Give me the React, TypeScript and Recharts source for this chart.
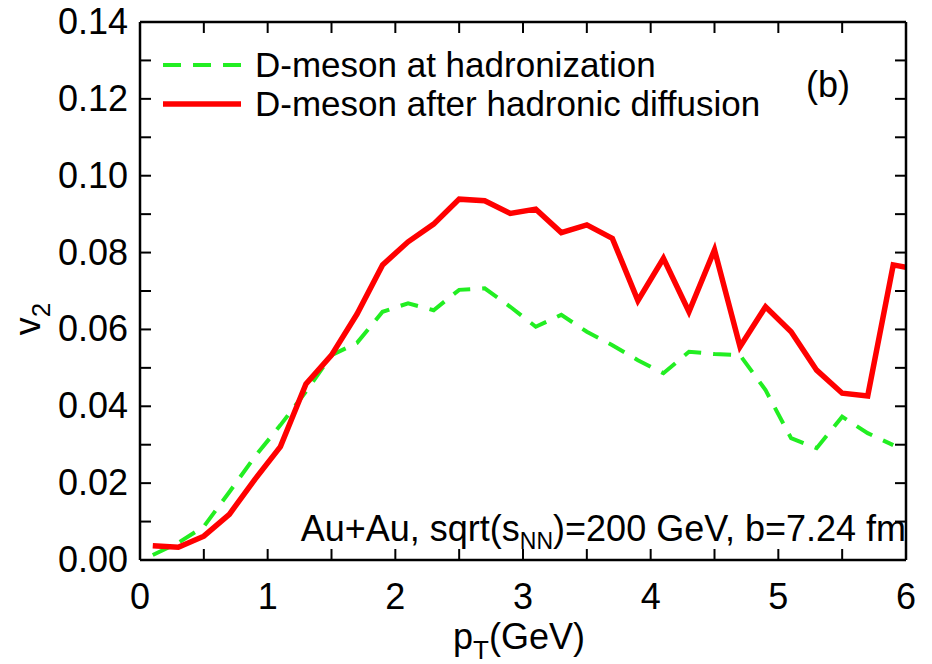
import React from 'react';
import { LineChart, Line, XAxis, YAxis, Label } from 'recharts';

const pT = [0.1, 0.3, 0.5, 0.7, 0.9, 1.1, 1.3, 1.5, 1.7, 1.9, 2.1, 2.3, 2.5, 2.7, 2.9, 3.1, 3.3, 3.5, 3.7, 3.9, 4.1, 4.3, 4.5, 4.7, 4.9, 5.1, 5.3, 5.5, 5.7, 5.9, 6.0];
const afterDiffusion = [0.0037, 0.0033, 0.0062, 0.0119, 0.021, 0.0295, 0.0458, 0.0533, 0.064, 0.0768, 0.0828, 0.0874, 0.0939, 0.0935, 0.0902, 0.0913, 0.0852, 0.0872, 0.0837, 0.0675, 0.0785, 0.0646, 0.0807, 0.0555, 0.0659, 0.0594, 0.0494, 0.0434, 0.0427, 0.0768, 0.0762];
const atHadronization = [0.0013, 0.0045, 0.0087, 0.0177, 0.0269, 0.0351, 0.0438, 0.0533, 0.0565, 0.0646, 0.0668, 0.065, 0.0703, 0.0707, 0.0659, 0.0607, 0.0638, 0.0594, 0.0559, 0.052, 0.0486, 0.0542, 0.0536, 0.0533, 0.0442, 0.0317, 0.0291, 0.0373, 0.033, 0.0299, null];

const xTicks = [0, 0.5, 1, 1.5, 2, 2.5, 3, 3.5, 4, 4.5, 5, 5.5, 6];
const yTicks = [0, 0.01, 0.02, 0.03, 0.04, 0.05, 0.06, 0.07, 0.08, 0.09, 0.1, 0.11, 0.12, 0.13, 0.14];
const yLabelTicks = [0, 0.02, 0.04, 0.06, 0.08, 0.1, 0.12, 0.14];
const xLabelTicks = [0, 1, 2, 3, 4, 5, 6];

const seriesNames = ['D-meson at hadronization', 'D-meson after hadronic diffusion'];

const data = pT.map((x, i) => ({ pT: x, green: atHadronization[i], red: afterDiffusion[i] }));

const FONT = '"Liberation Sans", Arial, sans-serif';
const TICK_LEN = 11;
const GREEN = '#22ee22';
const RED = '#ff0000';
const FS = 36;

const BottomTick = (props: any) => {
  const { x, y, payload } = props;
  const v = payload.value;
  const isLabel = xLabelTicks.includes(v);
  return (
    <g>
      <line x1={x} y1={y} x2={x} y2={y - TICK_LEN} stroke="#000" strokeWidth={2} />
      {isLabel && (
        <text x={x} y={y + 49} textAnchor="middle" fontSize={FS} fontFamily={FONT} fill="#000">
          {String(v)}
        </text>
      )}
    </g>
  );
};

const TopTick = (props: any) => {
  const { x, y } = props;
  return <line x1={x} y1={y} x2={x} y2={y + TICK_LEN} stroke="#000" strokeWidth={2} />;
};

const LeftTick = (props: any) => {
  const { x, y, payload } = props;
  const v = payload.value;
  const isLabel = yLabelTicks.some((t) => Math.abs(t - v) < 1e-9);
  return (
    <g>
      <line x1={x} y1={y} x2={x + TICK_LEN} y2={y} stroke="#000" strokeWidth={2} />
      {isLabel && (
        <text x={x - 12} y={y + 12} textAnchor="end" fontSize={FS} fontFamily={FONT} fill="#000">
          {v.toFixed(2)}
        </text>
      )}
    </g>
  );
};

const RightTick = (props: any) => {
  const { x, y } = props;
  return <line x1={x} y1={y} x2={x - TICK_LEN} y2={y} stroke="#000" strokeWidth={2} />;
};

const YTitle = (props: any) => {
  const { viewBox } = props;
  const cx = 40;
  const cy = viewBox.y + viewBox.height / 2 + 28;
  return (
    <text transform={`translate(${cx},${cy}) rotate(-90)`} textAnchor="middle" fontSize={FS} fontFamily={FONT} fill="#000">
      v<tspan fontSize={26} dy={10}>2</tspan>
    </text>
  );
};

const XTitle = (props: any) => {
  const { viewBox } = props;
  const cx = viewBox.x + viewBox.width / 2 - 4;
  return (
    <text x={cx} y={649} textAnchor="middle" fontSize={FS} fontFamily={FONT} fill="#000">
      p<tspan fontSize={26} dy={10}>T</tspan><tspan dy={-10}>(GeV)</tspan>
    </text>
  );
};

const LegendBox = () => (
  <div style={{ position: 'absolute', left: 163, top: 45, fontFamily: FONT, fontSize: 35, color: '#000', lineHeight: '39px' }}>
    {seriesNames.map((name, i) => (
      <div key={name} style={{ display: 'flex', alignItems: 'center', height: 39, whiteSpace: 'nowrap' }}>
        <svg width={78} height={10} style={{ marginRight: 14 }}>
          {i === 0 ? (
            <line x1={0} y1={5} x2={78} y2={5} stroke={GREEN} strokeWidth={4} strokeDasharray="18 12" />
          ) : (
            <line x1={0} y1={5} x2={78} y2={5} stroke={RED} strokeWidth={5.5} />
          )}
        </svg>
        <span>{name}</span>
      </div>
    ))}
  </div>
);

export default function App() {
  return (
    <div style={{ position: 'absolute', left: 0, top: 0, width: 932, height: 664, background: '#fff' }}>
      <LineChart width={932} height={664} data={data} margin={{ top: 21, right: 25, left: 0, bottom: 0 }}>
        <XAxis
          dataKey="pT"
          type="number"
          domain={[0, 6]}
          ticks={xTicks}
          interval={0}
          height={104}
          tickSize={0}
          tickMargin={0}
          tickLine={false}
          tick={<BottomTick />}
          axisLine={{ stroke: '#000', strokeWidth: 2.5 }}
          allowDataOverflow
        >
          <Label content={<XTitle />} />
        </XAxis>
        <XAxis
          xAxisId="top"
          orientation="top"
          dataKey="pT"
          type="number"
          domain={[0, 6]}
          ticks={xTicks}
          interval={0}
          height={1}
          tickSize={0}
          tickMargin={0}
          tickLine={false}
          tick={<TopTick />}
          axisLine={{ stroke: '#000', strokeWidth: 2.5 }}
          allowDataOverflow
        />
        <YAxis
          type="number"
          domain={[0, 0.14]}
          ticks={yTicks}
          interval={0}
          width={140}
          tickSize={0}
          tickMargin={0}
          tickLine={false}
          tick={<LeftTick />}
          axisLine={{ stroke: '#000', strokeWidth: 2.5 }}
          allowDataOverflow
        >
          <Label content={<YTitle />} />
        </YAxis>
        <YAxis
          yAxisId="right"
          orientation="right"
          type="number"
          domain={[0, 0.14]}
          ticks={yTicks}
          interval={0}
          width={1}
          tickSize={0}
          tickMargin={0}
          tickLine={false}
          tick={<RightTick />}
          axisLine={{ stroke: '#000', strokeWidth: 2.5 }}
          allowDataOverflow
        />
        <Line
          dataKey="green"
          name={seriesNames[0]}
          stroke={GREEN}
          strokeWidth={4}
          strokeDasharray="18 12"
          dot={false}
          isAnimationActive={false}
        />
        <Line
          dataKey="red"
          name={seriesNames[1]}
          stroke={RED}
          strokeWidth={5.5}
          strokeLinejoin="miter"
          dot={false}
          isAnimationActive={false}
        />
      </LineChart>
      <LegendBox />
      <div style={{ position: 'absolute', left: 806, top: 64, fontFamily: FONT, fontSize: FS, color: '#000' }}>(b)</div>
      <div style={{ position: 'absolute', right: 26, top: 508, fontFamily: FONT, fontSize: 36, color: '#000', whiteSpace: 'nowrap' }}>
        Au+Au, sqrt(s<sub style={{ fontSize: 23 }}>NN</sub>)=200 GeV, b=7.24 fm
      </div>
    </div>
  );
}
